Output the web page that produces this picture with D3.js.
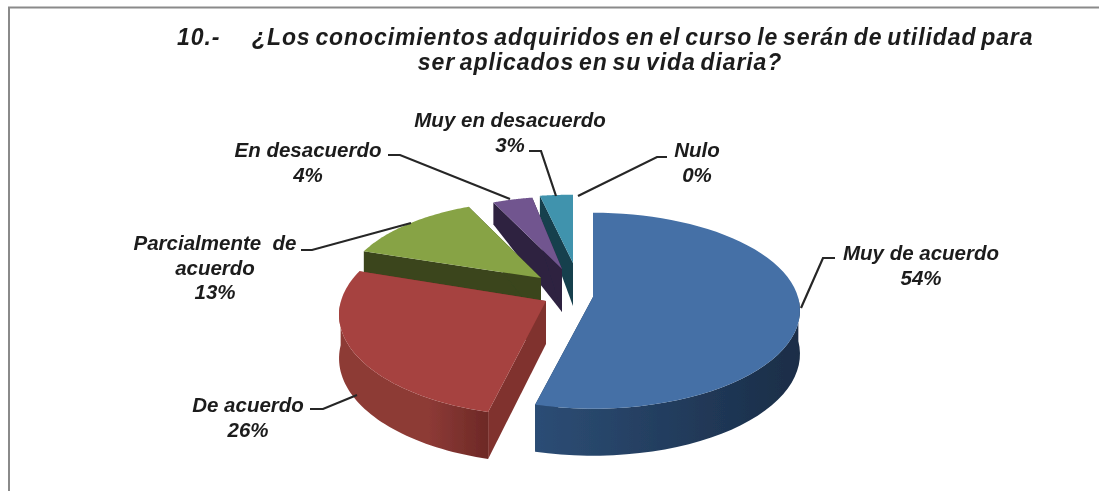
<!DOCTYPE html>
<meta charset="utf-8" />
<title>Conocimientos adquiridos</title>
<style>
  html, body { margin: 0; padding: 0; background: #fff; }
  svg { display: block; }
  text {
    font-family: "Liberation Sans", Arial, sans-serif;
    font-weight: bold;
    font-style: italic;
    fill: #1c1c1c;
    white-space: pre;
  }
  .title {
    font-size: 23px;
    letter-spacing: 0.9px;
    word-spacing: -2.4px;
  }
</style>
<body>
<svg width="1099" height="491"></svg>
<script src="https://d3js.org/d3.v7.min.js"></script>
<script>
  const categories = ["Muy de acuerdo", "De acuerdo", "Parcialmente de acuerdo", "En desacuerdo", "Muy en desacuerdo", "Nulo"];
  const values = [54, 26, 13, 4, 3, 0];
  const topColors = ["#4470a6", "#a6423f", "#87a345", "#71558f", "#3f93ad", "#e08a3c"];
  const wallColors = ["#1f3553", "#80322f", "#3a451c", "#2d2140", "#173f4d", "#8a5020"];
  const rimFrom = ["#2c4d75", "#8d3a36", "#4a5a24", "#3a2b52", "#1f5568", "#8a5020"];
  const rimTo = ["#1a2d47", "#6d2926", "#3a451c", "#2d2140", "#173f4d", "#8a5020"];

  // label text lines, centre x, first baseline, leader line
  const labelLines = [
    ["Muy de acuerdo", "54%"],
    ["De acuerdo", "26%"],
    ["Parcialmente  de", "acuerdo", "13%"],
    ["En desacuerdo", "4%"],
    ["Muy en desacuerdo", "3%"],
    ["Nulo", "0%"]
  ];
  const labelX = [921, 248, 215, 308, 510, 697];
  const labelY = [260, 412, 250, 157, 127, 157];
  const leaders = [
    [[835, 258], [823, 258], [801, 308]],
    [[310, 409], [323, 409], [357, 395]],
    [[301, 250], [312, 250], [411, 223]],
    [[388, 155], [400, 155], [510, 199]],
    [[529, 151], [541, 151], [556, 196]],
    [[667, 157], [657, 157], [578, 196]]
  ];

  // where each exploded slice sits, and how much the far ones shrink
  const apexX = [593, 546, 541, 562, 573, 573];
  const apexY = [297, 301, 278, 269, 263, 263];
  const shrinkX = [1, 1, 0.95, 0.9, 1, 1];
  const shrinkY = [1, 1.03, 0.92, 0.86, 0.81, 0.81];

  const svg = d3.select("svg");
  const defs = svg.append("defs");
  defs.append("filter").attr("id", "soft").append("feGaussianBlur").attr("stdDeviation", 0.55);
  defs.append("filter").attr("id", "softText").append("feGaussianBlur").attr("stdDeviation", 0.45);

  // frame, only top and left are in the picture
  svg.append("path")
    .attr("d", "M9,491V7.5H1099")
    .attr("fill", "none")
    .attr("stroke", "#8a8a8a")
    .attr("stroke-width", 2);

  const rx = 205, ry = 98, persp = 0.14;

  const pie = d3.pie().sort(null).value(d => d)(values);

  // perspective disc: angle clockwise from the top, far side is smaller
  function project(a) {
    const px = Math.sin(a), pz = -Math.cos(a);
    const s = 1 + persp * pz;
    return [px * s * rx, pz * s * ry, pz];
  }
  function depth(pz) {
    return pz < 0 ? 43 + 23 * pz : 43 + 4 * pz;
  }

  const line = d3.line();
  const g = svg.append("g").attr("filter", "url(#soft)");

  // back slices first, blue and red go on top
  const order = [5, 4, 3, 2, 0, 1];
  order.forEach(i => {
    const d = pie[i];
    if (d.value === 0) return;
    const ox = apexX[i], oy = apexY[i];
    const angles = d3.range(0, 61).map(k => d.startAngle + (d.endAngle - d.startAngle) * k / 60);
    const rim = angles.map(project).map(p => [ox + p[0] * shrinkX[i], oy + p[1] * shrinkY[i], p[2]]);
    const low = p => [p[0], p[1] + depth(p[2])];
    const apex = [ox, oy];
    const apexLow = [ox, oy + depth(0)];

    const sl = g.append("g").attr("class", "slice");

    // the two cut walls
    [rim[0], rim[60]].forEach(p => {
      sl.append("path")
        .attr("d", line([apex, [p[0], p[1]], low(p), apexLow]) + "Z")
        .attr("fill", wallColors[i]);
    });

    // outer wall only on the near half, with a horizontal shade
    const near = rim.filter(p => p[2] >= 0);
    if (near.length > 1) {
      const xs = d3.extent(near, p => p[0]);
      const grad = defs.append("linearGradient")
        .attr("id", "rim" + i)
        .attr("gradientUnits", "userSpaceOnUse")
        .attr("x1", xs[0]).attr("x2", xs[1]).attr("y1", 0).attr("y2", 0);
      grad.append("stop").attr("offset", 0).attr("stop-color", rimFrom[i]);
      if (i === 1) grad.append("stop").attr("offset", 0.6).attr("stop-color", rimFrom[i]);
      grad.append("stop").attr("offset", 1).attr("stop-color", rimTo[i]);
      sl.append("path")
        .attr("d", line(near.map(p => [p[0], p[1]]).concat(near.slice().reverse().map(low))) + "Z")
        .attr("fill", `url(#rim${i})`);
    }

    // top face
    sl.append("path")
      .attr("d", line([apex].concat(rim.map(p => [p[0], p[1]]))) + "Z")
      .attr("fill", topColors[i]);
  });

  // leaders and labels
  const labels = svg.append("g").attr("filter", "url(#softText)");
  leaders.forEach(pts => {
    labels.append("path")
      .attr("d", line(pts))
      .attr("fill", "none")
      .attr("stroke", "#262626")
      .attr("stroke-width", 2.2);
  });
  categories.forEach((c, i) => {
    labelLines[i].forEach((t, j) => {
      labels.append("text")
        .attr("x", labelX[i])
        .attr("y", labelY[i] + j * 24.5)
        .attr("text-anchor", "middle")
        .attr("font-size", 20.5)
        .text(t);
    });
  });

  // title
  const title = svg.append("g").attr("filter", "url(#softText)");
  title.append("text").attr("class", "title").attr("x", 177).attr("y", 45).text("10.-");
  title.append("text").attr("class", "title").attr("x", 252).attr("y", 45)
    .text("¿Los conocimientos adquiridos en el curso le serán de utilidad para");
  title.append("text").attr("class", "title").attr("x", 600).attr("y", 70).attr("text-anchor", "middle")
    .text("ser aplicados en su vida diaria?");
</script>
</body>
